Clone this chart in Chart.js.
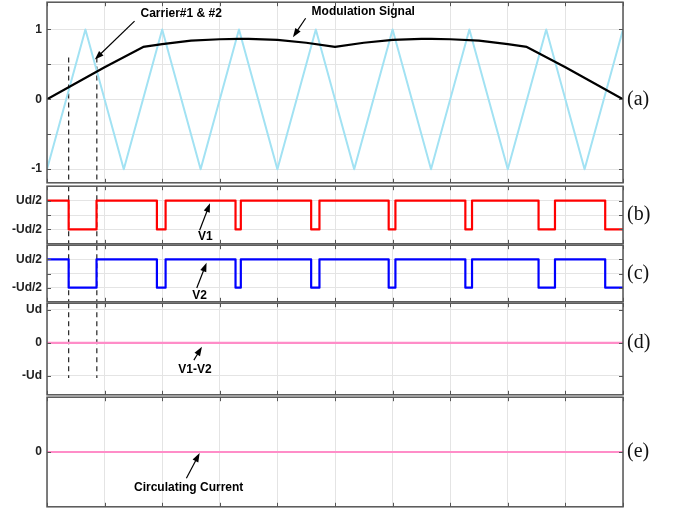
<!DOCTYPE html>
<html lang="en">
<head>
<meta charset="UTF-8">
<title>Carrier PWM waveforms</title>
<script src="https://cdn.jsdelivr.net/npm/chart.js"></script>
<style>
  body { margin: 0; background: #fff; }
  #wrap { position: relative; width: 677px; height: 511px; overflow: hidden; }
  #wrap canvas { position: absolute; left: 0; }
</style>
</head>
<body>
<div id="wrap">
  <canvas id="pa"></canvas>
  <canvas id="pb"></canvas>
  <canvas id="pc"></canvas>
  <canvas id="pd"></canvas>
  <canvas id="pe"></canvas>
</div>
<script>
// time axis runs over 10 grid divisions
const carrierX = [0, 0.667, 1.333, 2, 2.667, 3.333, 4, 4.667, 5.333, 6, 6.667, 7.333, 8, 8.667, 9.333, 10];
const carrierY = [-1, 1, -1, 1, -1, 1, -1, 1, -1, 1, -1, 1, -1, 1, -1, 1];

const modX = [0, 0.5, 1, 1.67, 2, 2.5, 3, 3.33, 3.5, 4, 4.5, 5, 5.5, 6, 6.5, 6.67, 7, 7.5, 8, 8.33, 9, 9.5, 10];
const modY = [0, 0.23, 0.46, 0.75, 0.79, 0.84, 0.86, 0.866, 0.865, 0.85, 0.81, 0.75, 0.81, 0.85, 0.865, 0.866, 0.86, 0.84, 0.79, 0.75, 0.46, 0.23, 0];

// switching instants and the level reached at each one (Ud = 1)
const v1Times  = [0, 0.376, 0.86, 1.908, 2.059, 3.273, 3.365, 4.586, 4.73, 5.932, 6.049, 7.263, 7.379, 8.534, 8.819, 9.691, 10];
const v1Levels = [0.5, -0.5, 0.5, -0.5, 0.5, -0.5, 0.5, -0.5, 0.5, -0.5, 0.5, -0.5, 0.5, -0.5, 0.5, -0.5, -0.5];
const v2Times  = [0, 0.376, 0.86, 1.908, 2.059, 3.273, 3.365, 4.586, 4.73, 5.932, 6.049, 7.263, 7.379, 8.534, 8.819, 9.691, 10];
const v2Levels = [0.5, -0.5, 0.5, -0.5, 0.5, -0.5, 0.5, -0.5, 0.5, -0.5, 0.5, -0.5, 0.5, -0.5, 0.5, -0.5, -0.5];

const diffX = [0, 10];
const diffY = [0, 0];
const currentX = [0, 10];
const currentY = [0, 0];

const dashX = [0.376, 0.865];

const aTicks = [-1, -0.5, 0, 0.5, 1];
const aLabels = ['-1', '', '0', '', '1'];
const bTicks = [-0.5, 0, 0.5];
const bLabels = ['-Ud/2', '', 'Ud/2'];
const dTicks = [-1, 0, 1];
const dLabels = ['-Ud', '0', 'Ud'];
const eTicks = [0];
const eLabels = ['0'];

const PAD = 12;
const GRID = '#e4e4e4';
const FRAME = '#555';

function pts(xs, ys) {
  return xs.map((x, i) => ({ x: x, y: ys[i] }));
}

function dashSets(yTop, yBot) {
  return dashX.map(x => ({
    data: [{ x: x, y: yTop }, { x: x, y: yBot }],
    borderColor: '#222',
    borderWidth: 1.2,
    borderDash: [5, 4],
    pointRadius: 0
  }));
}

function drawArrow(ctx, x0, y0, x1, y1) {
  const ang = Math.atan2(y1 - y0, x1 - x0);
  const len = 9, hw = 3.2;
  ctx.beginPath();
  ctx.moveTo(x0, y0);
  ctx.lineTo(x1 - Math.cos(ang) * len * 0.8, y1 - Math.sin(ang) * len * 0.8);
  ctx.stroke();
  ctx.beginPath();
  ctx.moveTo(x1, y1);
  ctx.lineTo(x1 - Math.cos(ang) * len - Math.sin(ang) * hw, y1 - Math.sin(ang) * len + Math.cos(ang) * hw);
  ctx.lineTo(x1 - Math.cos(ang) * len + Math.sin(ang) * hw, y1 - Math.sin(ang) * len - Math.cos(ang) * hw);
  ctx.closePath();
  ctx.fill();
}

const panelExtras = {
  id: 'panelExtras',
  afterDraw(chart, args, opts) {
    const ctx = chart.ctx, a = chart.chartArea;
    const xs = chart.scales.x, ys = chart.scales.y;
    ctx.save();
    // small inward tick marks on all four sides
    ctx.strokeStyle = FRAME;
    ctx.lineWidth = 1;
    ctx.beginPath();
    xs.ticks.forEach(t => {
      const px = Math.round(xs.getPixelForValue(t.value)) + 0.5;
      ctx.moveTo(px, a.top); ctx.lineTo(px, a.top + 4);
      ctx.moveTo(px, a.bottom); ctx.lineTo(px, a.bottom - 4);
    });
    ys.ticks.forEach(t => {
      const py = Math.round(ys.getPixelForValue(t.value)) + 0.5;
      ctx.moveTo(a.left, py); ctx.lineTo(a.left + 4, py);
      ctx.moveTo(a.right, py); ctx.lineTo(a.right - 4, py);
    });
    ctx.stroke();
    // frame
    ctx.lineWidth = 1.5;
    ctx.strokeRect(a.left, a.top, a.right - a.left, a.bottom - a.top);
    // panel tag on the right
    ctx.fillStyle = '#111';
    ctx.font = '20px "Liberation Serif", "Times New Roman", serif';
    ctx.textAlign = 'left';
    ctx.textBaseline = 'middle';
    ctx.fillText(opts.tag, a.right + 4, ys.getPixelForValue(0));
    // callouts
    ctx.font = 'bold 12px "Liberation Sans", Arial, sans-serif';
    ctx.textAlign = 'center';
    ctx.strokeStyle = '#000';
    ctx.fillStyle = '#000';
    ctx.lineWidth = 1.2;
    (opts.notes || []).forEach(n => {
      ctx.fillText(n.text, xs.getPixelForValue(n.tx), ys.getPixelForValue(n.ty));
      drawArrow(ctx, xs.getPixelForValue(n.fx), ys.getPixelForValue(n.fy),
                xs.getPixelForValue(n.ax), ys.getPixelForValue(n.ay));
    });
    ctx.restore();
  }
};

function makePanel(id, top, height, yMin, yMax, ticks, labels, datasets, extras) {
  const cv = document.getElementById(id);
  cv.width = 677;
  cv.height = height + 2 * PAD;
  cv.style.top = (top - PAD) + 'px';
  return new Chart(cv, {
    type: 'line',
    data: { datasets: datasets },
    options: {
      responsive: false,
      animation: false,
      layout: { padding: { left: 0, right: 54, top: PAD, bottom: PAD } },
      plugins: { legend: { display: false }, tooltip: { enabled: false }, panelExtras: extras },
      elements: { line: { tension: 0, borderJoinStyle: 'round' }, point: { radius: 0 } },
      scales: {
        x: {
          type: 'linear', min: 0, max: 10,
          afterFit: s => { s.height = 0; },
          ticks: { display: false, stepSize: 1 },
          grid: { color: GRID, drawTicks: false },
          border: { display: false }
        },
        y: {
          min: yMin, max: yMax,
          afterFit: s => { s.width = 47; },
          afterBuildTicks: s => { s.ticks = ticks.map(v => ({ value: v })); },
          grid: { color: GRID, drawTicks: false },
          border: { display: false },
          ticks: {
            autoSkip: false,
            padding: 5,
            color: '#222',
            font: { family: '"Liberation Sans", Arial, sans-serif', size: 12, weight: 'bold' },
            callback: (v, i) => labels[i]
          }
        }
      }
    },
    plugins: [panelExtras]
  });
}

// (a) carrier and modulation
makePanel('pa', 2, 181, -1.195, 1.39, aTicks, aLabels, [
  { data: pts(modX, modY), borderColor: '#000', borderWidth: 2.2 },
  { data: pts(carrierX, carrierY), borderColor: '#a2e2f3', borderWidth: 2 },
  ...dashSets(0.6, -1.195)
], {
  tag: '(a)',
  notes: [
    { text: 'Carrier#1 & #2', tx: 2.33, ty: 1.23, fx: 1.52, fy: 1.12, ax: 0.83, ay: 0.57 },
    { text: 'Modulation Signal', tx: 5.49, ty: 1.26, fx: 4.49, fy: 1.16, ax: 4.27, ay: 0.89 }
  ]
});

// (b) V1
makePanel('pb', 186, 58, -1, 1, bTicks, bLabels, [
  { data: pts(v1Times, v1Levels), borderColor: '#ff0000', borderWidth: 2.2, stepped: 'before' },
  ...dashSets(1, -1)
], {
  tag: '(b)',
  notes: [{ text: 'V1', tx: 2.75, ty: -0.76, fx: 2.65, fy: -0.53, ax: 2.83, ay: 0.41 }]
});

// (c) V2
makePanel('pc', 245, 57, -1, 1, bTicks, bLabels, [
  { data: pts(v2Times, v2Levels), borderColor: '#0000ff', borderWidth: 2.2, stepped: 'before' },
  ...dashSets(1, -1)
], {
  tag: '(c)',
  notes: [{ text: 'V2', tx: 2.65, ty: -0.79, fx: 2.6, fy: -0.51, ax: 2.77, ay: 0.38 }]
});

// (d) V1-V2
makePanel('pd', 303, 92, -1.57, 1.2, dTicks, dLabels, [
  { data: pts(diffX, diffY), borderColor: '#ff8dc8', borderWidth: 2.2 },
  ...dashSets(1.2, -1.06)
], {
  tag: '(d)',
  notes: [{ text: 'V1-V2', tx: 2.57, ty: -0.82, fx: 2.55, fy: -0.52, ax: 2.69, ay: -0.12 }]
});

// (e) circulating current
makePanel('pe', 397, 110, -1, 1, eTicks, eLabels, [
  { data: pts(currentX, currentY), borderColor: '#ff8dc8', borderWidth: 2.2 }
], {
  tag: '(e)',
  notes: [{ text: 'Circulating Current', tx: 2.46, ty: -0.645, fx: 2.42, fy: -0.48, ax: 2.65, ay: -0.02 }]
});
</script>
</body>
</html>
